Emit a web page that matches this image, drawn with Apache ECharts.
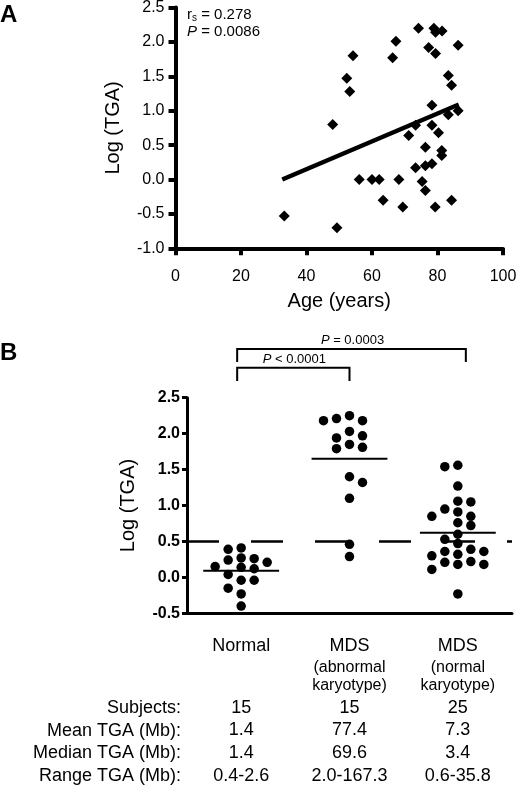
<!DOCTYPE html>
<html>
<head>
<meta charset="utf-8">
<script src="https://cdn.jsdelivr.net/npm/echarts@6/dist/echarts.min.js"></script>
<style>html,body{margin:0;padding:0;background:#fff}#c{width:520px;height:788px}</style>
</head>
<body>
<div id="c"></div>
<script>
// ---------- Panel A data ----------
const ages = [33.2, 49.3, 48.0, 52.3, 53.2, 54.2, 56.1, 60.0, 62.2, 63.4, 66.3, 67.3, 68.2, 69.4, 71.2, 73.3, 73.3, 74.2, 75.3, 76.3,
              76.3, 76.3, 77.3, 78.3, 78.3, 78.3, 78.9, 79.4, 79.4, 79.3, 80.3, 81.4, 81.3, 81.3, 83.3, 83.3, 84.3, 84.3, 86.3, 86.3];
const logTgaA = [-0.53, -0.70, 0.80, 1.47, 1.28, 1.80, 0.00, 0.00, 0.00, -0.30, 1.77, 2.01, 0.00, -0.40, 0.64, 0.79, 0.17, 2.20, -0.03, -0.16,
                 0.47, 0.20, 1.92, 1.08, 0.79, 0.23, 2.20, 2.14, 1.83, -0.40, 0.68, 2.16, 0.42, 0.35, 1.51, 0.94, 1.37, -0.30, 1.95, 1.00];
const fitAge = [32.6, 86.5];
const fitVal = [0.00, 1.09];
const statR = '0.278';
const statP = '0.0086';

// ---------- Panel B data ----------
const groupNames = ['Normal', 'MDS', 'MDS'];
const groupSub = ['', '(abnormal\nkaryotype)', '(normal\nkaryotype)'];
const normalVals = [0.39, 0.27, 0.41, 0.21, 0.15, 0.24, 0.26, 0.14, 0.12, 0.04, -0.04, -0.04, -0.15, -0.23, -0.40];
const abnormalVals = [2.25, 2.18, 2.21, 2.18, 1.94, 2.03, 1.97, 1.81, 1.79, 1.85, 1.40, 1.32, 1.10, 0.46, 0.29];
const normKaryVals = [1.56, 1.54, 1.27, 1.06, 1.05, 0.95, 0.91, 0.85, 0.85, 0.76, 0.72, 0.60, 0.53, 0.47, 0.39, 0.36, 0.36, 0.30, 0.32,
                      0.21, 0.18, 0.18, 0.22, 0.11, -0.23];
const threshold = 0.5;
const pOuter = '0.0003';
const pInner = '0.0001';

// ---------- Table data ----------
const rowTitles = ['Subjects:', 'Mean TGA (Mb):', 'Median TGA (Mb):', 'Range TGA (Mb):'];
const subjects = ['15', '15', '25'];
const meanTGA = ['1.4', '77.4', '7.3'];
const medianTGA = ['1.4', '69.6', '3.4'];
const rangeTGA = ['0.4-2.6', '2.0-167.3', '0.6-35.8'];

// ---------- helpers ----------
const FONT = '"Liberation Sans", Arial, sans-serif';
const groups = [normalVals, abnormalVals, normKaryVals];
const mean = a => a.reduce((s, v) => s + v, 0) / a.length;

// simple beeswarm on a column grid (pixel-based)
const PX_PER_CAT = 325 / 3, PX_PER_VAL = 215.6 / 3, DOT = 9, COLSTEP = 13;
function swarm(vals) {
  const order = vals.map((v, i) => i).sort((a, b) => vals[b] - vals[a]);
  const placed = [];
  const offs = new Array(vals.length);
  let flip = 1;
  order.forEach(i => {
    for (let k = 0; k < 30; k++) {
      const col = k === 0 ? 0 : (k % 2 ? -flip * Math.ceil(k / 2) : flip * Math.ceil(k / 2));
      const clash = placed.some(p => p.col === col && Math.abs(p.v - vals[i]) * PX_PER_VAL < DOT);
      if (!clash) {
        placed.push({ col, v: vals[i] });
        offs[i] = col * COLSTEP / PX_PER_CAT;
        if (col !== 0) flip = -flip;
        break;
      }
    }
  });
  return offs;
}

const dotSeries = groups.map((g, gi) => {
  const offs = swarm(g);
  const s = {
    type: 'scatter', xAxisIndex: 2, yAxisIndex: 1,
    symbol: 'circle', symbolSize: 9.5,
    itemStyle: { color: '#000', opacity: 1 },
    data: g.map((v, i) => [gi + offs[i], v]),
    z: 3
  };
  if (gi === 0) {
    s.markLine = {
      silent: true, symbol: ['none', 'none'], label: { show: false },
      lineStyle: { color: '#000', width: 2.5, type: [32, 32], opacity: 1 },
      data: [{ yAxis: threshold }], z: 2
    };
  }
  return s;
});

const chart = echarts.init(document.getElementById('c'), null, { renderer: 'canvas', width: 520, height: 788 });

const option = {
  backgroundColor: '#fff',
  animation: false,
  textStyle: { fontFamily: FONT, color: '#000' },
  grid: [
    { left: 175.5, top: 7.5, width: 327.5, height: 240.8, outerBoundsMode: 'none' },
    { left: 187, top: 397.7, width: 325, height: 215.6, outerBoundsMode: 'none' }
  ],
  xAxis: [
    {
      gridIndex: 0, type: 'value', min: 0, max: 100, interval: 20,
      axisLine: { onZero: false, lineStyle: { color: '#000', width: 4 } },
      axisTick: { length: 7, lineStyle: { color: '#000', width: 4 } },
      splitLine: { show: false },
      axisLabel: { color: '#000', fontSize: 16, fontFamily: FONT, margin: 20, lineHeight: 16 },
      name: 'Age (years)', nameLocation: 'middle', nameGap: 43,
      nameTextStyle: { color: '#000', fontSize: 20, fontFamily: FONT, lineHeight: 20 }
    },
    {
      gridIndex: 1, type: 'category', data: groupNames.map((n, i) => n + (groupSub[i] ? ' ' + groupSub[i].replace('\n', ' ') : '')),
      axisLine: { onZero: false, lineStyle: { color: '#000', width: 3 } },
      axisTick: { alignWithLabel: true, length: 6, lineStyle: { color: '#000', width: 3 } },
      axisLabel: {
        margin: 21, interval: 0,
        formatter: (v, idx) => '{big|' + groupNames[idx] + '}' + (groupSub[idx] ? '\n' + groupSub[idx].split('\n').map(t => '{small|' + t + '}').join('\n') : ''),
        rich: {
          big: { fontSize: 18, lineHeight: 24, fontFamily: FONT, color: '#000' },
          small: { fontSize: 16, lineHeight: 18, fontFamily: FONT, color: '#000' }
        }
      }
    },
    { gridIndex: 1, type: 'value', min: -0.5, max: 2.5, show: false, axisLine: { onZero: false } },
    {
      gridIndex: 1, type: 'category', data: groupNames.map((n, i) => n + i), position: 'bottom', offset: 83,
      axisLine: { show: false, onZero: false }, axisTick: { show: false },
      axisLabel: {
        margin: 0, interval: 0, color: '#000', fontSize: 18, lineHeight: 22.7, fontFamily: FONT,
        formatter: (v, idx) => [subjects[idx], meanTGA[idx], medianTGA[idx], rangeTGA[idx]].join('\n')
      }
    }
  ],
  yAxis: [
    {
      gridIndex: 0, type: 'value', min: -1, max: 2.5, interval: 0.5,
      axisLine: { show: true, onZero: false, lineStyle: { color: '#000', width: 4 } },
      axisTick: { show: true, length: 7, lineStyle: { color: '#000', width: 4 } },
      splitLine: { show: false },
      axisLabel: { color: '#000', fontSize: 16, fontFamily: FONT, margin: 11, formatter: v => v.toFixed(1) },
      name: 'Log (TGA)', nameLocation: 'middle', nameGap: 52,
      nameTextStyle: { color: '#000', fontSize: 20, fontFamily: FONT, lineHeight: 20 }
    },
    {
      gridIndex: 1, type: 'value', min: -0.5, max: 2.5, interval: 0.5,
      axisLine: { show: true, onZero: false, lineStyle: { color: '#000', width: 3 } },
      axisTick: { show: true, length: 5, lineStyle: { color: '#000', width: 3 } },
      splitLine: { show: false },
      axisLabel: { color: '#000', fontSize: 16, fontWeight: 'bold', fontFamily: FONT, margin: 7, formatter: v => v.toFixed(1) },
      name: 'Log (TGA)', nameLocation: 'middle', nameGap: 49,
      nameTextStyle: { color: '#000', fontSize: 20, fontFamily: FONT, lineHeight: 20 }
    }
  ],
  series: [
    {
      type: 'scatter', xAxisIndex: 0, yAxisIndex: 0,
      symbol: 'diamond', symbolSize: 11,
      itemStyle: { color: '#000', opacity: 1 },
      data: ages.map((a, i) => [a, logTgaA[i]])
    },
    {
      type: 'line', xAxisIndex: 0, yAxisIndex: 0, symbol: 'none',
      lineStyle: { color: '#000', width: 4.5 },
      data: fitAge.map((a, i) => [a, fitVal[i]]), z: 4
    },
    ...dotSeries,
    {
      type: 'custom', xAxisIndex: 2, yAxisIndex: 1,
      data: groups.map((g, i) => [i, mean(g)]),
      renderItem: (params, api) => {
        const c = api.value(0), m = api.value(1);
        const p1 = api.coord([c - 0.35, m]), p2 = api.coord([c + 0.35, m]);
        return { type: 'line', shape: { x1: p1[0], y1: p1[1], x2: p2[0], y2: p2[1] }, style: { stroke: '#000', lineWidth: 2 } };
      },
      z: 5
    }
  ]
};
chart.setOption(option);

// ---------- annotations ----------
const cx = i => chart.convertToPixel({ xAxisIndex: 2 }, i);
const x0 = cx(0) - 4, x1 = cx(1), x2 = cx(2) + 8;
chart.setOption({
  graphic: [
    { type: 'text', left: 0, top: 3, style: { text: 'A', font: 'bold 24px ' + FONT, fill: '#000' } },
    { type: 'text', left: 0, top: 341, style: { text: 'B', font: 'bold 24px ' + FONT, fill: '#000' } },
    {
      type: 'text', x: 187, y: 6,
      style: {
        text: '{n|r}{sub|s}{n| = ' + statR + '}\n{it|P}{n| = ' + statP + '}',
        rich: {
          n: { fontSize: 15, lineHeight: 17, fontFamily: FONT, fill: '#000' },
          sub: { fontSize: 10, lineHeight: 17, fontFamily: FONT, fill: '#000', verticalAlign: 'bottom' },
          it: { fontSize: 15, lineHeight: 17, fontFamily: FONT, fill: '#000', fontStyle: 'italic' }
        }
      }
    },
    { type: 'polyline', shape: { points: [[x0, 362], [x0, 349], [x2, 349], [x2, 362]] }, style: { stroke: '#000', lineWidth: 2, fill: null } },
    { type: 'polyline', shape: { points: [[x0, 381], [x0, 367.7], [x1, 367.7], [x1, 381]] }, style: { stroke: '#000', lineWidth: 2, fill: null } },
    {
      type: 'text', x: (x0 + x2) / 2 + 1, y: 340,
      style: {
        text: '{it|P}{n| = ' + pOuter + '}', align: 'center', verticalAlign: 'middle',
        rich: { n: { fontSize: 13, fontFamily: FONT, fill: '#000' }, it: { fontSize: 13, fontFamily: FONT, fill: '#000', fontStyle: 'italic' } }
      }
    },
    {
      type: 'text', x: (x0 + x1) / 2 + 1, y: 359,
      style: {
        text: '{it|P}{n| < ' + pInner + '}', align: 'center', verticalAlign: 'middle',
        rich: { n: { fontSize: 13, fontFamily: FONT, fill: '#000' }, it: { fontSize: 13, fontFamily: FONT, fill: '#000', fontStyle: 'italic' } }
      }
    },
    {
      type: 'text', x: 181, y: 696.6,
      style: { text: rowTitles.join('\n'), align: 'right', verticalAlign: 'top', font: '18px ' + FONT, lineHeight: 22.7, fill: '#000' }
    }
  ]
});
</script>
</body>
</html>
